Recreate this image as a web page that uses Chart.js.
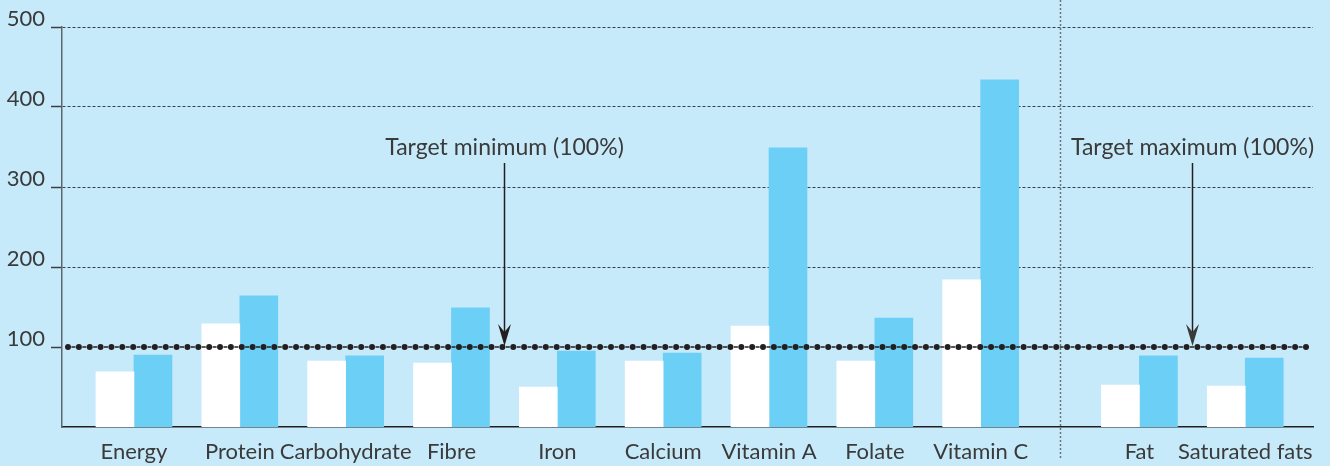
<!DOCTYPE html>
<html><head><meta charset="utf-8">
<script src="https://cdn.jsdelivr.net/npm/chart.js@4.4.1/dist/chart.umd.min.js"></script>
<style>html,body{margin:0;padding:0;background:#c7eafa;overflow:hidden}#wrap{width:1330px;height:466px}</style>
</head><body><div id="wrap"><canvas id="c" width="1330" height="466"></canvas></div>
<script>
const categories = ['Energy','Protein','Carbohydrate','Fibre','Iron','Calcium','Vitamin A','Folate','Vitamin C','Fat','Saturated fats'];
const targetGroup = ['minimum','minimum','minimum','minimum','minimum','minimum','minimum','minimum','minimum','maximum','maximum'];
const whiteValues = [69,129,82.5,80,50,82.5,126,82.5,184,52.5,51];
const blueValues = [90,164,89,149,95,92.5,349,136,434,89,86];
const yTickValues = [100,200,300,400,500];
const targetValue = 100;
const annotationLabels = {minimum:'Target minimum (100%)', maximum:'Target maximum (100%)'};

const FONT = 'Lato';
const TEXT = '#3a3a3a';

// slot positions: half-slot gap where the target group changes
const positions = [];
(function(){let off=0;for(let i=0;i<categories.length;i++){if(i>0&&targetGroup[i]!==targetGroup[i-1])off+=0.5;positions.push(i+off);}})();

const groupNames = [...new Set(targetGroup)];

const decor = {
  id:'decor',
  beforeDraw(chart){
    const c=chart.ctx;c.save();c.fillStyle='#c7eafa';c.fillRect(0,0,chart.width,chart.height);c.restore();
  },
  afterDatasetsDraw(chart){
    const c=chart.ctx, xs=chart.scales.x, ys=chart.scales.y, a=chart.chartArea;
    c.save();
    // separators between groups
    for(let i=1;i<categories.length;i++){
      if(targetGroup[i]!==targetGroup[i-1]){
        const x=Math.round(xs.getPixelForValue((positions[i]+positions[i-1])/2))+0.5;
        c.strokeStyle='#6b7378';c.lineWidth=1.5;c.setLineDash([2,2]);
        c.beginPath();c.moveTo(x,0);c.lineTo(x,a.bottom+33);c.stroke();
      }
    }
    c.setLineDash([]);
    // target line: dots with short dashes
    const ty=ys.getPixelForValue(targetValue);
    const x0=a.left+6, x1=a.right-7, n=114, step=(x1-x0)/n;
    c.strokeStyle='#231f20';c.lineWidth=1.3;
    c.beginPath();
    for(let k=0;k<n;k++){const mx=x0+step*(k+0.5);c.moveTo(mx-2,ty);c.lineTo(mx+2,ty);}
    c.stroke();
    c.fillStyle='#231f20';
    for(let k=0;k<=n;k++){c.beginPath();c.arc(x0+step*k,ty,3,0,Math.PI*2);c.fill();}
    // arrows + labels
    groupNames.forEach(g=>{
      const idx=targetGroup.map((t,i)=>t===g?i:-1).filter(i=>i>=0);
      let mid;
      if(idx.length>=4){mid=(positions[3]+positions[4])/2;}
      else {mid=(positions[idx[0]]+positions[idx[idx.length-1]])/2;}
      const x=Math.round(xs.getPixelForValue(mid))+0.5;
      const top=ys.getPixelForValue(330);
      c.strokeStyle='#231f20';c.lineWidth=1.5;
      c.beginPath();c.moveTo(x,top);c.lineTo(x,ty-14);c.stroke();
      c.beginPath();c.moveTo(x,ty-1);c.lineTo(x-6.5,ty-23);c.lineTo(x,ty-15);c.lineTo(x+6.5,ty-23);c.closePath();c.fill();
      c.font='23px '+FONT;c.fillStyle=TEXT;c.textAlign='center';c.textBaseline='alphabetic';
      c.fillText(annotationLabels[g],x,top-8);
    });
    c.restore();
  }
};

new Chart(document.getElementById('c'),{
  type:'bar',
  data:{datasets:[
    {data:whiteValues.map((v,i)=>({x:positions[i],y:v})),backgroundColor:'#ffffff',barThickness:38,borderWidth:0},
    {data:blueValues.map((v,i)=>({x:positions[i],y:v})),backgroundColor:'#6ccff5',barThickness:38,borderWidth:0}
  ]},
  options:{
    responsive:false,animation:false,
    layout:{padding:{left:0,right:17,top:27,bottom:0}},
    plugins:{legend:{display:false},tooltip:{enabled:false}},
    scales:{
      x:{type:'linear',offset:false,bounds:'data',min:-0.68,max:positions[positions.length-1]+0.64,
        afterBuildTicks(s){s.ticks=positions.map(p=>({value:p}));},
        afterFit(s){s.height=39;},
        grid:{display:false,drawTicks:false,offset:false},
        border:{display:true,color:'#231f20',width:1.5},
        ticks:{autoSkip:false,maxRotation:0,padding:12,color:TEXT,font:{family:FONT,size:22},
          callback(v){const i=positions.indexOf(v);return i>=0?categories[i]:'';}}
      },
      y:{min:0,max:500,
        afterBuildTicks(s){s.ticks=yTickValues.map(v=>({value:v}));},
        afterFit(s){s.width=62;},
        grid:{color:(ctx)=>ctx.tick&&ctx.tick.value===targetValue?'rgba(0,0,0,0)':'#3a3f44',lineWidth:1,
          tickColor:'#3a3f44',tickLength:11,tickWidth:1.5,tickBorderDash:[]},
        border:{display:true,color:'#5f666b',width:1.5,dash:[3,2]},
        ticks:{padding:6,labelOffset:-8,color:TEXT,font:{family:FONT,size:22}}
      }
    }
  },
  plugins:[decor]
});
</script></body></html>
